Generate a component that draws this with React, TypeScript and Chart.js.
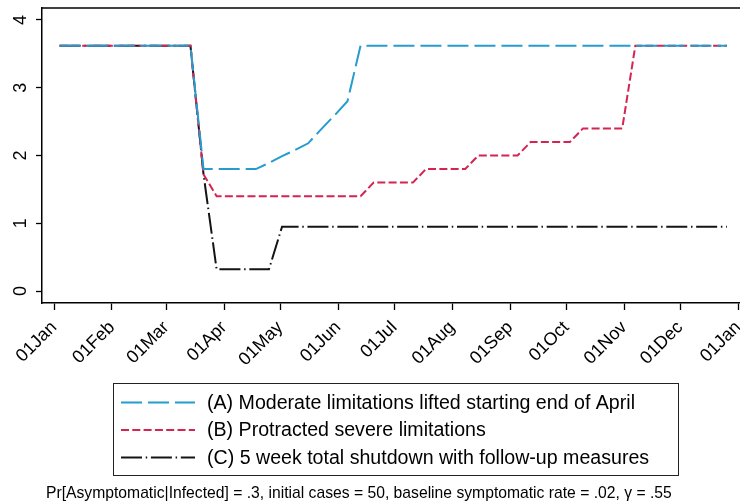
import React, { useEffect, useRef } from "react";
import { Chart, registerables } from "chart.js";

Chart.register(...registerables);

// Weekly observation dates (2020)
const weekDates = [
  "2020-01-04", "2020-01-11", "2020-01-18", "2020-01-25",
  "2020-02-01", "2020-02-08", "2020-02-15", "2020-02-22", "2020-02-29",
  "2020-03-07", "2020-03-14", "2020-03-21", "2020-03-28",
  "2020-04-04", "2020-04-11", "2020-04-18", "2020-04-25",
  "2020-05-02", "2020-05-09", "2020-05-16", "2020-05-23", "2020-05-30",
  "2020-06-06", "2020-06-13", "2020-06-20", "2020-06-27",
  "2020-07-04", "2020-07-11", "2020-07-18", "2020-07-25",
  "2020-08-01", "2020-08-08", "2020-08-15", "2020-08-22", "2020-08-29",
  "2020-09-05", "2020-09-12", "2020-09-19", "2020-09-26",
  "2020-10-03", "2020-10-10", "2020-10-17", "2020-10-24", "2020-10-31",
  "2020-11-07", "2020-11-14", "2020-11-21", "2020-11-28",
  "2020-12-05", "2020-12-12", "2020-12-19", "2020-12-26",
];

// (A) Moderate limitations lifted starting end of April
const seriesA = [
  3.62, 3.62, 3.62, 3.62, 3.62, 3.62, 3.62, 3.62, 3.62, 3.62, 3.62,
  1.8, 1.8, 1.8, 1.8, 1.8,
  1.89, 1.99, 2.08, 2.18, 2.39, 2.59, 2.8,
  3.62, 3.62, 3.62, 3.62, 3.62, 3.62, 3.62, 3.62, 3.62, 3.62,
  3.62, 3.62, 3.62, 3.62, 3.62, 3.62, 3.62, 3.62, 3.62, 3.62,
  3.62, 3.62, 3.62, 3.62, 3.62, 3.62, 3.62, 3.62, 3.62,
];

// (B) Protracted severe limitations
const seriesB = [
  3.62, 3.62, 3.62, 3.62, 3.62, 3.62, 3.62, 3.62, 3.62, 3.62, 3.62,
  1.72,
  1.4, 1.4, 1.4, 1.4, 1.4, 1.4, 1.4, 1.4, 1.4, 1.4, 1.4, 1.4,
  1.6, 1.6, 1.6, 1.6,
  1.8, 1.8, 1.8, 1.8,
  2.0, 2.0, 2.0, 2.0,
  2.2, 2.2, 2.2, 2.2,
  2.4, 2.4, 2.4, 2.4,
  3.62, 3.62, 3.62, 3.62, 3.62, 3.62, 3.62, 3.62,
];

// (C) 5 week total shutdown with follow-up measures
const seriesC = [
  3.62, 3.62, 3.62, 3.62, 3.62, 3.62, 3.62, 3.62, 3.62, 3.62, 3.62,
  1.72,
  0.32, 0.32, 0.32, 0.32, 0.32,
  0.95, 0.95, 0.95, 0.95, 0.95, 0.95, 0.95, 0.95, 0.95, 0.95,
  0.95, 0.95, 0.95, 0.95, 0.95, 0.95, 0.95, 0.95, 0.95, 0.95,
  0.95, 0.95, 0.95, 0.95, 0.95, 0.95, 0.95, 0.95, 0.95, 0.95,
  0.95, 0.95, 0.95, 0.95, 0.95,
];

const seriesLabels = [
  "(A) Moderate limitations lifted starting end of April",
  "(B) Protracted severe limitations",
  "(C) 5 week total shutdown with follow-up measures",
];

const monthTickDates = [
  "2020-01-01", "2020-02-01", "2020-03-01", "2020-04-01", "2020-05-01",
  "2020-06-01", "2020-07-01", "2020-08-01", "2020-09-01", "2020-10-01",
  "2020-11-01", "2020-12-01", "2021-01-01",
];
const monthTickLabels = [
  "01Jan", "01Feb", "01Mar", "01Apr", "01May", "01Jun", "01Jul",
  "01Aug", "01Sep", "01Oct", "01Nov", "01Dec", "01Jan",
];

const yTickValues = [0, 1, 2, 3, 4];

const noteText =
  "Pr[Asymptomatic|Infected] = .3, initial cases = 50, baseline symptomatic rate = .02, \u03B3 = .55";

const FONT = "'Liberation Sans', Arial, sans-serif";

function dayOfYear(s: string): number {
  const [y, m, d] = s.split("-").map(Number);
  return (Date.UTC(y, m - 1, d) - Date.UTC(2020, 0, 1)) / 86400000;
}

const colors = ["rgb(38,156,206)", "rgb(212,36,82)", "rgb(20,20,20)"];
const dashes = [
  [21, 6],
  [8, 3.3],
  [21, 3.7, 1.5, 3.7],
];

const framePlugin = {
  id: "frameAndLabels",
  afterDraw(chart: any) {
    const { ctx, chartArea, scales } = chart;
    ctx.save();
    // top border of plot region
    ctx.strokeStyle = "#000";
    ctx.lineWidth = 1.5;
    ctx.beginPath();
    ctx.moveTo(chartArea.left, chartArea.top);
    ctx.lineTo(chartArea.right, chartArea.top);
    ctx.stroke();

    // rotated y tick labels
    const ys = scales.y;
    ctx.fillStyle = "#000";
    ctx.font = `18px ${FONT}`;
    ctx.textAlign = "center";
    ctx.textBaseline = "middle";
    yTickValues.forEach((v) => {
      const py = ys.getPixelForValue(v);
      ctx.save();
      ctx.translate(20, py);
      ctx.rotate(-Math.PI / 2);
      ctx.fillText(String(v), 0, 1);
      ctx.restore();
    });

    // legend box
    ctx.strokeStyle = "#222";
    ctx.lineWidth = 1;
    ctx.strokeRect(113.5, 383.5, 565, 92);
    chart.data.datasets.forEach((ds: any, i: number) => {
      const yy = 402.5 + i * 27.5;
      ctx.save();
      ctx.strokeStyle = ds.borderColor;
      ctx.lineWidth = 2;
      ctx.setLineDash(ds.borderDash);
      ctx.beginPath();
      ctx.moveTo(121, yy);
      ctx.lineTo(195, yy);
      ctx.stroke();
      ctx.restore();
      ctx.fillStyle = "#000";
      ctx.font = `19.6px ${FONT}`;
      ctx.textAlign = "left";
      ctx.textBaseline = "middle";
      ctx.fillText(ds.label, 207, yy + 1);
    });

    // note
    ctx.font = `15.7px ${FONT}`;
    ctx.textAlign = "left";
    ctx.textBaseline = "middle";
    ctx.fillStyle = "#000";
    ctx.fillText(noteText, 46, 494);
    ctx.restore();
  },
};

export default function App() {
  const ref = useRef<HTMLCanvasElement | null>(null);

  useEffect(() => {
    if (!ref.current) return;
    const series = [seriesA, seriesB, seriesC];
    const xs = weekDates.map(dayOfYear);
    const monthDays = monthTickDates.map(dayOfYear);
    const chart = new Chart(ref.current, {
      type: "line",
      data: {
        datasets: series.map((vals, i) => ({
          label: seriesLabels[i],
          data: vals.map((v, j) => ({ x: xs[j], y: v })),
          borderColor: colors[i],
          backgroundColor: colors[i],
          borderWidth: 2,
          borderDash: dashes[i],
          pointRadius: 0,
          tension: 0,
          fill: false,
        })),
      },
      options: {
        responsive: false,
        animation: false,
        devicePixelRatio: 1,
        layout: { padding: { top: 8, left: 0, right: 0, bottom: 0 } },
        plugins: {
          legend: { display: false },
          tooltip: { enabled: false },
        },
        scales: {
          x: {
            type: "linear",
            min: -6.42,
            max: 367,
            afterBuildTicks: (scale: any) => {
              scale.ticks = monthDays.map((v) => ({ value: v }));
            },
            afterFit: (scale: any) => {
              scale.paddingLeft = 0;
              scale.paddingRight = 0;
              scale.height = 200;
            },
            ticks: {
              autoSkip: false,
              maxRotation: 45,
              minRotation: 45,
              padding: 7,
              color: "#000",
              font: { family: FONT, size: 18 },
              callback: (_v: any, idx: number) => monthTickLabels[idx],
            },
            grid: {
              drawOnChartArea: false,
              drawTicks: true,
              tickLength: 7,
              color: "#000",
              tickWidth: 1.3,
            },
            border: { display: true, color: "#000", width: 1.5 },
          },
          y: {
            type: "linear",
            min: -0.177,
            max: 4.177,
            afterBuildTicks: (scale: any) => {
              scale.ticks = yTickValues.map((v) => ({ value: v }));
            },
            afterFit: (scale: any) => {
              scale.width = 42;
            },
            ticks: { display: false },
            grid: {
              drawOnChartArea: false,
              drawTicks: true,
              tickLength: 6,
              color: "#000",
              tickWidth: 1.3,
            },
            border: { display: true, color: "#000", width: 1.5 },
          },
        },
      },
      plugins: [framePlugin],
    });
    return () => chart.destroy();
  }, []);

  return (
    <div style={{ position: "absolute", left: 0, top: 0, width: 740, height: 503, background: "#fff" }}>
      <canvas ref={ref} width={740} height={503} style={{ display: "block" }} />
    </div>
  );
}
